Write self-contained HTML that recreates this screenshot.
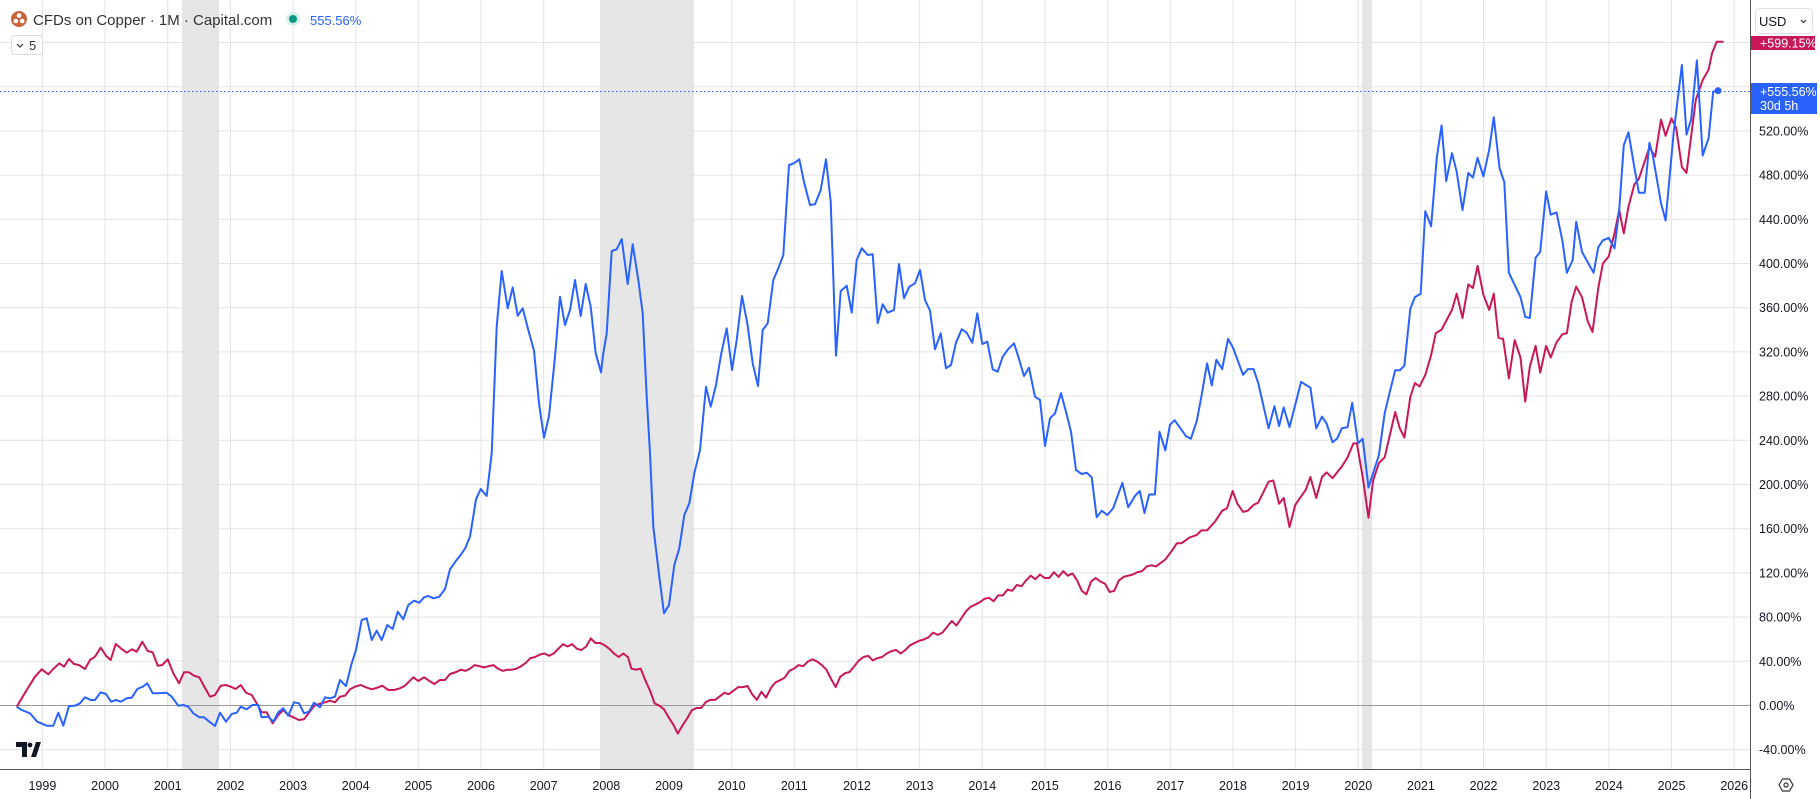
<!DOCTYPE html>
<html><head><meta charset="utf-8"><style>
html,body{margin:0;padding:0;background:#fff;}
svg{display:block;font-family:"Liberation Sans",sans-serif;}
</style></head><body>
<svg id="c" width="1820" height="799" viewBox="0 0 1820 799" xmlns="http://www.w3.org/2000/svg">
<rect width="1820" height="799" fill="#fff"/>
<g id="shade" fill="#e6e6e6">
<rect x="182" y="0" width="37" height="770"/>
<rect x="600" y="0" width="94" height="770"/>
<rect x="1362" y="0" width="10" height="770"/>
</g>
<g id="grid" stroke="#e3e3e3" stroke-width="1"></g>
<g id="lbl" font-size="12.5" fill="#131722"></g>
<line x1="0" y1="705.5" x2="1750" y2="705.5" stroke="#9a9a9a" stroke-width="1"/>
<line x1="0" y1="91.5" x2="1750" y2="91.5" stroke="#2962ff" stroke-width="1" stroke-dasharray="1.5,2.5"/>
<path id="red" fill="none" stroke="#c8185a" stroke-width="2" stroke-linejoin="round"/>
<path id="blue" fill="none" stroke="#2962ff" stroke-width="2" stroke-linejoin="round"/>
<circle cx="1718" cy="90.7" r="3.5" fill="#2962ff"/>
<line x1="0" y1="769.5" x2="1750" y2="769.5" stroke="#555" stroke-width="1"/>
<line x1="1750.5" y1="0" x2="1750.5" y2="799" stroke="#555" stroke-width="1"/>
<circle cx="19" cy="19" r="8" fill="#c8643c"/>
<circle cx="19" cy="15.5" r="2.3" fill="#fff"/><circle cx="15.8" cy="21" r="2.3" fill="#fff"/><circle cx="22.2" cy="21" r="2.3" fill="#fff"/>
<text x="33" y="25" font-size="15" fill="#333">CFDs on Copper · 1M · Capital.com</text>
<circle cx="293" cy="19" r="7" fill="#d6efe8"/><circle cx="293" cy="19" r="4" fill="#089981"/>
<text x="310" y="25" font-size="13" fill="#2962ff">555.56%</text>
<rect x="11.5" y="35.5" width="31" height="19" rx="3" fill="#fff" stroke="#ddd"/>
<path d="M17 44 l3 3 l3 -3" fill="none" stroke="#333" stroke-width="1.2"/>
<text x="29" y="50" font-size="13" fill="#333">5</text>
<rect x="1755.5" y="8.5" width="57" height="25" rx="4" fill="#fff" stroke="#e0e0e0"/>
<text x="1759" y="26" font-size="13" fill="#131722">USD</text>
<path d="M1801 20 l2.5 2.5 l2.5 -2.5" fill="none" stroke="#333" stroke-width="1.2"/>
<rect x="1751" y="36" width="64" height="14" fill="#c8185a"/>
<text x="1760" y="47.5" font-size="12.5" fill="#fff">+599.15%</text>
<rect x="1751" y="83" width="66" height="31" fill="#2962ff"/>
<text x="1760" y="96" font-size="12.5" fill="#fff">+555.56%</text>
<text x="1760" y="110" font-size="12.5" fill="#fff">30d 5h</text>
<polygon points="1779,785 1782.5,779 1789.5,779 1793,785 1789.5,791 1782.5,791" fill="none" stroke="#333" stroke-width="1.2"/>
<circle cx="1786" cy="785" r="2" fill="none" stroke="#333" stroke-width="1.2"/>
<path d="M16 742 h11 v15 h-5 v-10 h-6z" fill="#131722"/>
<circle cx="30" cy="745" r="2.4" fill="#131722"/>
<path d="M31 757 l5 -15 h5 l-5 15z" fill="#131722"/>
</svg>
<script>
var NS="http://www.w3.org/2000/svg";
var g=document.getElementById('grid'),L=document.getElementById('lbl');
function yv(v){return 705.5-v/40*44.2;}
function xy(yr){return 42.4+(yr-1999)*62.66;}
for(var yr=1999;yr<=2026;yr++){var x=xy(yr);var l=document.createElementNS(NS,'line');l.setAttribute('x1',x);l.setAttribute('x2',x);l.setAttribute('y1',0);l.setAttribute('y2',770);g.appendChild(l);
var t=document.createElementNS(NS,'text');t.setAttribute('x',x);t.setAttribute('y',790);t.setAttribute('text-anchor','middle');t.textContent=yr;L.appendChild(t);}
for(var v=-40;v<=600;v+=40){var y=yv(v);var l=document.createElementNS(NS,'line');l.setAttribute('x1',0);l.setAttribute('x2',1750);l.setAttribute('y1',y);l.setAttribute('y2',y);g.appendChild(l);
if(v<=520){var t=document.createElementNS(NS,'text');t.setAttribute('x',1759);t.setAttribute('y',y+4.5);t.textContent=v.toFixed(2)+'%';L.appendChild(t);}}
var S=1.1607;
function dsp(a){var r=[];for(var i=0;i<a.length;i+=2)r.push([a[i]*S,a[i+1]*S]);return r;}
function zz(a,x0,y0){var r=[];for(var i=0;i<a.length;i+=2)r.push([x0+a[i]/3,y0+a[i+1]/3]);return r;}
var b8=[50,440,65,450,90,460,112,485,140,497,160,497,175,458,190,497,207,438,225,437,240,430,255,412,272,420,285,420,302,397,318,402,333,425,348,420,362,425,380,415,395,413,412,387,428,380,442,370,458,400,475,400,500,398,515,410,535,437,550,435,565,440,580,460,598,472,612,472,628,485,645,498,660,458,678,485,695,462,710,458,722,440,740,448,757,435,775,435,785,472,805,470,820,485,835,457,850,445,865,467,882,427,897,430,912,460,927,455,942,428,960,442,975,412,990,415,1005,410,1020,360,1038,378,1055,310,1068,270,1085,180,1100,175,1115,240,1130,212,1145,240,1162,195,1178,207,1193,155,1210,178,1225,135,1242,122,1258,128,1272,112,1285,108,1300,115,1318,110,1335,87,1350,28];
var r8=[50,440,80,390,105,350,125,328,145,343,160,327,178,310,192,320,207,297,222,312,237,315,255,327,270,300,285,290,302,263,318,287,332,300,347,252,362,265,380,278,396,268,410,275,427,245,443,273,458,277,473,317,487,315,503,298,520,340,537,370,552,337,567,337,582,347,598,352,613,380,630,410,645,405,662,377,678,375,692,380,707,387,722,375,738,398,755,405,770,430,785,457,800,457,818,490,835,465,850,450,865,465,880,472,897,480,912,478,927,458,943,437,958,432,975,427,990,422,1005,427,1020,410,1035,407,1050,388,1065,380,1082,375,1098,382,1115,388,1132,383,1147,377,1165,390,1182,390,1200,385,1215,377,1240,352,1255,363,1272,352,1287,362,1303,372,1320,360,1335,360,1350,342];
var bA=[393,483,397,478,401,472,405,462];
var zb2=[108,898,122,867,140,888,155,760,170,380,185,213,203,325,218,262,233,347,248,325,265,390,282,452,297,610,312,713,327,648,345,470,360,290,375,375,390,330,405,240,422,348,437,252,452,320,467,460,483,517];
var zb1=[10,700,20,640,35,393,50,388,65,357,83,492,98,373,115,480,128,580,140,830,150,1000,160,1220,178,1370,192,1480,207,1455,223,1335,238,1285,253,1185,268,1150,283,1060,300,990,318,800,332,860,348,795,363,705,380,625,396,750,410,660,426,528,442,610,458,730,474,798,488,630,503,610,520,480,535,445,550,405,567,135,582,130,598,118,613,190,630,255,645,253,662,210,678,118,692,245,708,707,722,513,740,497,755,578,770,420,785,385,803,405,818,403,833,610,848,553,863,578,882,570,897,432,912,535,928,500,945,490,960,450,975,540,990,572,1005,688,1022,640,1038,745,1053,735,1068,668,1085,628,1100,638,1117,668,1132,580,1147,672,1162,665,1178,748,1193,755,1208,710,1225,687];
var zb3=[12,130,25,170,42,228,57,203,75,290,90,300,105,438,120,355,135,340,153,280,168,335,183,395,198,510,215,522,230,518,245,532,260,652,275,632,292,645];
var bB=[959,438,967,416,972,437,978,427,982,423,986,442,990,426,995,426,999,372,1004,388,1008,366,1012,362,1022,376,1026,378,1031,363,1035,342,1040,313,1044,332,1048,310,1053,318,1058,292,1062,299,1071,323,1075,318,1080,318,1084,330,1093,369,1098,350,1102,367,1106,351,1111,368,1121,329,1129,334,1134,369,1139,359,1143,365,1148,381,1152,378,1156,369,1161,368,1165,347,1170,382,1174,378,1179,420,1188,392,1193,356,1197,339,1202,319,1206,319,1210,315,1215,266,1219,256,1224,253,1228,182,1233,195,1238,135,1242,108,1246,156,1251,132,1255,148,1260,181,1265,149,1269,153,1273,136,1278,152,1283,129,1287,101,1292,145,1296,157,1300,235,1310,256,1314,273,1318,274,1323,222,1327,217,1332,165,1336,185,1341,183,1346,207,1350,235,1355,224,1358,191,1363,217,1373,235,1377,213,1381,207,1386,205,1391,214,1395,181,1399,125,1403,114,1408,144,1412,166,1417,166,1421,123,1424,134,1431,175,1435,190,1442,114,1449,56,1453,116,1457,103,1462,52,1467,134,1472,119,1476,79,1480,78];
var rm=[393,579,397,577,401,578,405,576,409,573,413,574,417,575,421,574,425,573,429,576,433,578,437,577,441,577,445,576,449,574,453,571,457,567,461,566,465,564,469,563,473,565,477,563,481,559,485,555,489,557,493,555,497,559,501,560,505,557,509,550,513,554,517,554,521,556,525,559,529,563,533,566,537,563,541,566,544,576,548,577,552,576,556,586,560,595,564,606,568,608,572,611,576,618,580,624,584,632,588,625,592,619,596,612,600,610,604,610,608,605,612,603,616,603,620,600,624,597,628,598,632,595,636,592,640,592,644,591,648,598,652,603,656,596,660,601,664,593,668,588,672,586,676,584,680,578,684,576,688,573,692,574,696,570,700,568,704,570,708,573,712,577,716,585,720,592,724,583,728,580,732,579,736,574,740,569,744,566,748,565,752,569,756,567,760,566,764,563,768,561,772,560,776,563,780,560,784,556,788,554,792,552,796,551,800,549,804,545,808,547,812,545,816,540,820,535,824,539,828,533,832,527,836,523,840,521,844,519,848,516,852,515,856,518,860,513,864,513,868,508,872,509,876,504,880,505,884,500,888,496,892,499,896,495,900,498,904,498,908,493,912,497,916,492,920,496,924,494,928,500,932,509,936,512,940,501,944,498,948,501,952,503,956,510,960,509,964,500,968,497,972,496,976,495,980,493,984,492,988,488,992,487,996,488,1000,485,1004,482,
1010,474,1014,468,1018,468,1025,463,1031,461,1035,457,1040,457,1047,449,1053,440,1057,438,1062,423,1066,434,1071,441,1075,440,1080,435,1084,433,1093,415,1097,414,1102,434,1106,429,1111,454,1116,435,1120,429,1125,422,1129,411,1134,429,1139,411,1143,407,1148,412,1152,407,1156,402,1161,394,1166,382,1169,382,1174,411,1179,446,1183,414,1188,399,1193,394,1202,355,1206,369,1210,377,1215,342,1219,330,1223,333,1228,323,1233,306,1237,287,1242,284,1251,267,1255,253,1260,274,1265,245,1269,248,1273,229,1278,254,1283,267,1287,253,1291,291,1295,292,1300,326,1305,293,1310,308,1314,346,1318,316,1323,298,1327,321,1332,298,1336,308,1341,295,1346,288,1350,287,1354,260,1358,247,1363,256,1368,277,1372,286,1377,248,1381,227,1386,221,1391,201,1395,181,1399,201,1403,178,1408,159,1412,154,1421,127,1426,135,1431,103,1435,117,1440,102,1444,110,1449,144,1453,149,1461,86,1467,69,1472,60,1475,46,1479,36,1485,36];
function path(a){return 'M'+a.map(function(p){return p[0].toFixed(1)+','+p[1].toFixed(1)}).join(' L');}
var blue=zz(b8,0,560).concat(dsp(bA),zz(zb2,440,200),zz(zb1,600,120),zz(zb3,1010,300),dsp(bB));
document.getElementById('blue').setAttribute('d',path(blue));
document.getElementById('red').setAttribute('d',path(zz(r8,0,560).concat(dsp(rm))));
</script>
</body></html>
